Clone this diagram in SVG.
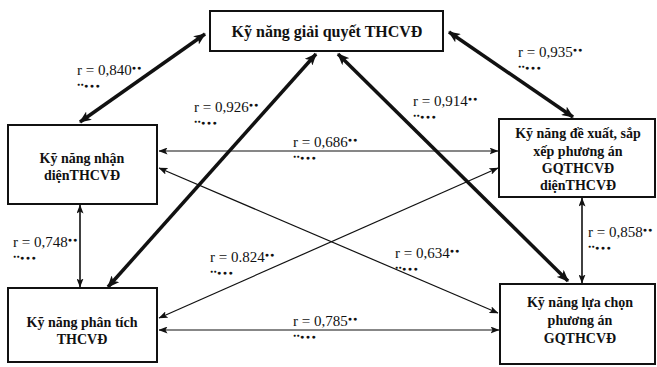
<svg xmlns="http://www.w3.org/2000/svg" width="657" height="367" viewBox="0 0 657 367">
<style>
.box{fill:#fff;stroke:#111;stroke-width:2}
.nt{font-family:"Liberation Serif",serif;font-weight:bold;font-size:14px;fill:#111;text-anchor:middle}
.lb{font-family:"Liberation Serif",serif;font-size:15px;fill:#111}
.lb2{font-family:"Liberation Serif",serif;font-size:7px;fill:#111;letter-spacing:1.5px}
.sm{font-size:7px;letter-spacing:1px}
.d1{font-size:5px;letter-spacing:0.5px}
.thick{stroke:#111;stroke-width:3.5;fill:none;marker-start:url(#hb);marker-end:url(#hb)}
.thin{stroke:#111;stroke-width:1.2;fill:none;marker-start:url(#hs);marker-end:url(#hs)}
.mid{stroke:#111;stroke-width:1.6;fill:none;marker-start:url(#hs);marker-end:url(#hs)}
</style>
<defs>
<marker id="hb" viewBox="0 0 12 10" refX="11" refY="5" markerWidth="12" markerHeight="10" markerUnits="userSpaceOnUse" orient="auto-start-reverse"><path d="M0,0 L12,5 L0,10 L3,5 Z" fill="#111"/></marker>
<marker id="hs" viewBox="0 0 9 7" refX="8.5" refY="3.5" markerWidth="9" markerHeight="7" markerUnits="userSpaceOnUse" orient="auto-start-reverse"><path d="M0,0 L9,3.5 L0,7 L2,3.5 Z" fill="#111"/></marker>
</defs>
<rect width="657" height="367" fill="#fff"/>
<g id="connectors">
<line class="thick" x1="205" y1="34" x2="80" y2="122"/>
<line class="thick" x1="449" y1="32" x2="573" y2="117"/>
<line class="thick" x1="316" y1="54" x2="108" y2="287"/>
<line class="thick" x1="338" y1="54" x2="568" y2="281"/>
<line class="thin" x1="159" y1="151" x2="498" y2="151"/>
<line class="thin" x1="159" y1="168" x2="498" y2="313"/>
<line class="thin" x1="159" y1="318" x2="498" y2="168"/>
<line class="thin" x1="159" y1="330" x2="499" y2="330"/>
<line class="mid" x1="80" y1="205" x2="80" y2="287"/>
<line class="mid" x1="582" y1="198" x2="582" y2="283"/>
</g>
<g id="labels">
<text class="lb" x="77" y="75">r = 0,840<tspan class="sm" dy="-5">●●</tspan></text>
<text class="lb2" x="77" y="88"><tspan class="d1" dy="-2">●●</tspan><tspan dy="2">●●●</tspan></text>
<text class="lb" x="518" y="57">r = 0,935<tspan class="sm" dy="-5">●●</tspan></text>
<text class="lb2" x="518" y="70"><tspan class="d1" dy="-2">●●</tspan><tspan dy="2">●●●</tspan></text>
<text class="lb" x="194" y="112">r = 0,926<tspan class="sm" dy="-5">●●</tspan></text>
<text class="lb2" x="194" y="125"><tspan class="d1" dy="-2">●●</tspan><tspan dy="2">●●●</tspan></text>
<text class="lb" x="413" y="106">r = 0,914<tspan class="sm" dy="-5">●●</tspan></text>
<text class="lb2" x="413" y="119"><tspan class="d1" dy="-2">●●</tspan><tspan dy="2">●●●</tspan></text>
<text class="lb" x="293" y="147">r = 0,686<tspan class="sm" dy="-5">●●</tspan></text>
<text class="lb2" x="293" y="160"><tspan class="d1" dy="-2">●●</tspan><tspan dy="2">●●●</tspan></text>
<text class="lb" x="13" y="247">r = 0,748<tspan class="sm" dy="-5">●●</tspan></text>
<text class="lb2" x="13" y="260"><tspan class="d1" dy="-2">●●</tspan><tspan dy="2">●●●</tspan></text>
<text class="lb" x="588" y="237">r = 0,858<tspan class="sm" dy="-5">●●</tspan></text>
<text class="lb2" x="588" y="250"><tspan class="d1" dy="-2">●●</tspan><tspan dy="2">●●●</tspan></text>
<text class="lb" x="210" y="262">r = 0.824<tspan class="sm" dy="-5">●●</tspan></text>
<text class="lb2" x="210" y="275"><tspan class="d1" dy="-2">●●</tspan><tspan dy="2">●●●</tspan></text>
<text class="lb" x="395" y="258">r = 0,634<tspan class="sm" dy="-5">●●</tspan></text>
<text class="lb2" x="395" y="271"><tspan class="d1" dy="-2">●●</tspan><tspan dy="2">●●●</tspan></text>
<text class="lb" x="293" y="326">r = 0,785<tspan class="sm" dy="-5">●●</tspan></text>
<text class="lb2" x="293" y="339"><tspan class="d1" dy="-2">●●</tspan><tspan dy="2">●●●</tspan></text>
</g>
<g id="n-top">
<rect class="box" x="210" y="11" width="233" height="40"/>
<text class="nt" x="327" y="37" style="font-size:16px">Kỹ năng giải quyết THCVĐ</text>
</g>
<g id="n-nhandien">
<rect class="box" x="8" y="125" width="149" height="79"/>
<text class="nt" x="82" y="163">Kỹ năng nhận</text>
<text class="nt" x="82" y="180">diệnTHCVĐ</text>
</g>
<g id="n-dexuat">
<rect class="box" x="499" y="119" width="156" height="78"/>
<text class="nt" x="578" y="138">Kỹ năng đề xuất, sắp</text>
<text class="nt" x="578" y="156">xếp phương án</text>
<text class="nt" x="578" y="173">GQTHCVĐ</text>
<text class="nt" x="578" y="190">diệnTHCVĐ</text>
</g>
<g id="n-phantich">
<rect class="box" x="8" y="288" width="149" height="74"/>
<text class="nt" x="82" y="327">Kỹ năng phân tích</text>
<text class="nt" x="82" y="344">THCVĐ</text>
</g>
<g id="n-luachon">
<rect class="box" x="500" y="284" width="155" height="80"/>
<text class="nt" x="580" y="307">Kỹ năng lựa chọn</text>
<text class="nt" x="580" y="325">phương án</text>
<text class="nt" x="580" y="343">GQTHCVĐ</text>
</g>
</svg>
